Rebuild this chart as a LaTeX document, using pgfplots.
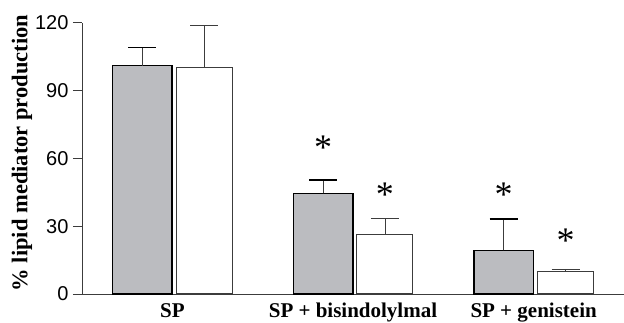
\documentclass[border=0pt]{standalone}
\usepackage{fontspec}
\setmainfont{Liberation Serif}
\setsansfont{Liberation Sans}
\usepackage{pgfplots}
\pgfplotsset{compat=1.18}
\definecolor{barGray}{RGB}{187,188,192}
\definecolor{axGray}{RGB}{60,60,60}
\begin{document}
\begin{tikzpicture}
\begin{axis}[
  scale only axis,
  width=542pt, height=271.3pt,
  xmin=-0.5, xmax=2.5, ymin=0, ymax=120,
  axis x line=bottom, axis y line=left,
  axis line style={draw=axGray, line width=0.9pt, -},
  xtick={0,1,2},
  xticklabels={SP, SP + bisindolylmal, SP + genistein},
  xtick style={draw=none},
  xticklabel style={font=\bfseries\fontsize{21}{21}\selectfont, anchor=base, yshift=-15pt},
  ytick={0,30,60,90,120},
  ytick style={draw=axGray, line width=0.9pt},
  tick align=outside,
  major tick length=9pt,
  /pgf/number format/assume math mode=true,
  yticklabel style={font=\sffamily\fontsize{20}{20}\selectfont, xshift=-1pt},
  ylabel={\% lipid mediator production},
  every axis y label/.style={at={(axis description cs:-0.111,0.52)}, rotate=90, anchor=center, font=\bfseries\fontsize{22.5}{22.5}\selectfont},
  clip=false,
]
\addplot[ybar, bar width=59.5pt, bar shift=0pt, fill=barGray, draw=black, line width=1.5pt,
  error bars/.cd, y dir=plus, y explicit,
  error bar style={line width=0.9pt, draw=axGray},
  error mark options={rotate=90, mark size=14pt, line width=1.6pt, draw=black}]
  coordinates {(-0.166,101) +- (0,8) (0.834,44.5) +- (0,5.9) (1.834,19.3) +- (0,13.9)};
\addplot[ybar, bar width=56pt, bar shift=0pt, fill=white, draw=axGray, line width=1pt,
  error bars/.cd, y dir=plus, y explicit,
  error bar style={line width=0.9pt, draw=axGray},
  error mark options={rotate=90, mark size=14pt, line width=1pt, draw=axGray}]
  coordinates {(0.177,100.3) +- (0,18.4) (1.177,26.5) +- (0,7) (2.177,9.9) +- (0,0.9)};
\node[font=\fontsize{36}{36}\selectfont, anchor=base, yshift=-18pt] at (axis cs:0.834,67.4) {*};
\node[font=\fontsize{36}{36}\selectfont, anchor=base, yshift=-18pt] at (axis cs:1.177,46.7) {*};
\node[font=\fontsize{36}{36}\selectfont, anchor=base, yshift=-18pt] at (axis cs:1.834,46.7) {*};
\node[font=\fontsize{36}{36}\selectfont, anchor=base, yshift=-18pt] at (axis cs:2.177,26.1) {*};
\end{axis}
\pgfresetboundingbox
\path (-82pt,-29pt) rectangle (542pt,294pt);
\end{tikzpicture}
\end{document}
